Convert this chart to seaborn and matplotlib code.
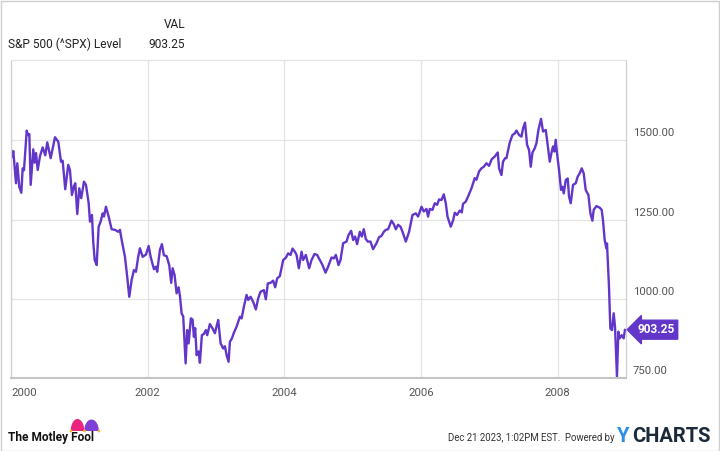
import numpy as np
import pandas as pd
import matplotlib
matplotlib.use("Agg")
import matplotlib.pyplot as plt
from matplotlib.transforms import ScaledTranslation
from matplotlib.patches import Rectangle, Circle, Polygon
import seaborn as sns

# ---------------- data ----------------
year_frac = [
    2000.000, 2000.015, 2000.034, 2000.073, 2000.092, 2000.121, 2000.151, 2000.171, 2000.190, 2000.230,
    2000.249, 2000.268, 2000.288, 2000.326, 2000.347, 2000.366, 2000.391, 2000.424, 2000.464, 2000.502,
    2000.531, 2000.581, 2000.644, 2000.692, 2000.732, 2000.756, 2000.794, 2000.838, 2000.863, 2000.892,
    2000.922, 2000.941, 2000.970, 2000.999, 2001.028, 2001.068, 2001.097, 2001.137, 2001.156, 2001.185,
    2001.204, 2001.225, 2001.254, 2001.283, 2001.312, 2001.342, 2001.361, 2001.390, 2001.429, 2001.473,
    2001.522, 2001.570, 2001.595, 2001.620, 2001.668, 2001.701, 2001.731, 2001.766, 2001.799, 2001.829,
    2001.862, 2001.887, 2001.927, 2001.975, 2002.015, 2002.044, 2002.092, 2002.121, 2002.140, 2002.180,
    2002.209, 2002.238, 2002.278, 2002.316, 2002.345, 2002.366, 2002.395, 2002.424, 2002.453, 2002.473,
    2002.497, 2002.521, 2002.556, 2002.579, 2002.600, 2002.633, 2002.658, 2002.677, 2002.696, 2002.717,
    2002.746, 2002.765, 2002.794, 2002.824, 2002.853, 2002.872, 2002.911, 2002.951, 2002.985, 2003.009,
    2003.033, 2003.068, 2003.106, 2003.131, 2003.156, 2003.185, 2003.204, 2003.234, 2003.263, 2003.302,
    2003.351, 2003.376, 2003.409, 2003.448, 2003.472, 2003.507, 2003.545, 2003.584, 2003.618, 2003.653,
    2003.701, 2003.730, 2003.759, 2003.799, 2003.837, 2003.867, 2003.896, 2003.935, 2003.984, 2004.023,
    2004.057, 2004.092, 2004.121, 2004.155, 2004.180, 2004.213, 2004.253, 2004.276, 2004.316, 2004.364,
    2004.399, 2004.443, 2004.481, 2004.521, 2004.560, 2004.604, 2004.642, 2004.692, 2004.726, 2004.755,
    2004.794, 2004.823, 2004.862, 2004.911, 2004.941, 2004.979, 2005.008, 2005.037, 2005.066, 2005.106,
    2005.135, 2005.164, 2005.194, 2005.223, 2005.262, 2005.300, 2005.350, 2005.388, 2005.423, 2005.457,
    2005.486, 2005.520, 2005.570, 2005.603, 2005.633, 2005.666, 2005.701, 2005.731, 2005.779, 2005.827,
    2005.877, 2005.925, 2005.959, 2006.009, 2006.042, 2006.082, 2006.105, 2006.130, 2006.169, 2006.203,
    2006.237, 2006.266, 2006.301, 2006.335, 2006.364, 2006.389, 2006.437, 2006.471, 2006.496, 2006.529,
    2006.569, 2006.598, 2006.617, 2006.656, 2006.690, 2006.740, 2006.788, 2006.813, 2006.851, 2006.886,
    2006.920, 2006.959, 2006.998, 2007.037, 2007.081, 2007.125, 2007.144, 2007.179, 2007.202, 2007.232,
    2007.252, 2007.300, 2007.340, 2007.374, 2007.398, 2007.437, 2007.472, 2007.495, 2007.524, 2007.554,
    2007.583, 2007.608, 2007.633, 2007.666, 2007.691, 2007.720, 2007.758, 2007.788, 2007.827, 2007.846,
    2007.886, 2007.915, 2007.934, 2007.954, 2007.973, 2007.992, 2008.022, 2008.051, 2008.071, 2008.091,
    2008.120, 2008.149, 2008.168, 2008.193, 2008.227, 2008.266, 2008.295, 2008.324, 2008.354, 2008.383,
    2008.412, 2008.452, 2008.481, 2008.510, 2008.529, 2008.569, 2008.617, 2008.646, 2008.665, 2008.690,
    2008.715, 2008.724, 2008.753, 2008.773, 2008.797, 2008.822, 2008.841, 2008.851, 2008.870, 2008.890,
    2008.909, 2008.939, 2008.968, 2008.987,
]
spx_level = [
    1472, 1449, 1466, 1365, 1428, 1354, 1335, 1412, 1406, 1531,
    1517, 1520, 1360, 1472, 1430, 1460, 1407, 1450, 1478, 1453,
    1494, 1444, 1510, 1496, 1433, 1436, 1346, 1423, 1406, 1328,
    1356, 1365, 1268, 1349, 1318, 1370, 1360, 1302, 1244, 1265,
    1180, 1123, 1107, 1228, 1244, 1270, 1260, 1291, 1260, 1220,
    1218, 1212, 1218, 1186, 1133, 1070, 1007, 1060, 1091, 1086,
    1133, 1160, 1133, 1140, 1167, 1133, 1094, 1102, 1086, 1155,
    1173, 1138, 1135, 1107, 1051, 1097, 1075, 1018, 1037, 1010,
    955, 945, 797, 902, 860, 939, 935, 881, 908, 823,
    835, 799, 886, 890, 902, 886, 921, 907, 892, 914,
    934, 860, 844, 851, 823, 802, 865, 876, 894, 913,
    944, 939, 976, 1013, 997, 1007, 991, 967, 1002, 1023,
    1028, 999, 1049, 1051, 1058, 1037, 1065, 1072, 1123, 1130,
    1144, 1139, 1159, 1149, 1139, 1097, 1149, 1123, 1139, 1097,
    1123, 1142, 1139, 1123, 1107, 1083, 1102, 1131, 1128, 1139,
    1107, 1123, 1176, 1181, 1202, 1215, 1186, 1197, 1173, 1212,
    1197, 1220, 1189, 1181, 1181, 1157, 1176, 1195, 1199, 1212,
    1218, 1220, 1247, 1236, 1220, 1234, 1228, 1212, 1181, 1212,
    1265, 1270, 1260, 1291, 1276, 1284, 1260, 1284, 1281, 1302,
    1297, 1314, 1312, 1330, 1302, 1260, 1228, 1248, 1272, 1265,
    1279, 1273, 1300, 1307, 1323, 1349, 1381, 1376, 1402, 1412,
    1417, 1428, 1420, 1441, 1449, 1462, 1412, 1391, 1433, 1444,
    1444, 1493, 1517, 1522, 1531, 1517, 1512, 1538, 1556, 1486,
    1470, 1417, 1462, 1475, 1491, 1533, 1568, 1528, 1533, 1502,
    1433, 1465, 1481, 1465, 1502, 1460, 1407, 1344, 1354, 1333,
    1375, 1380, 1323, 1302, 1360, 1365, 1386, 1396, 1412, 1396,
    1344, 1328, 1270, 1247, 1281, 1293, 1288, 1281, 1249, 1186,
    1160, 1175, 1039, 907, 902, 955, 913, 860, 755, 897,
    876, 886, 876, 903.25,
]
y_ticks = [750, 1000, 1250, 1500]
x_tick_years = [2000, 2002, 2004, 2006, 2008]
series_name = "S&P 500 (^SPX) Level"
last_value = 903.25

# ---------------- styling ----------------
LINE = "#6236c9"
GRID = "#e3e3e3"
TICK = "#555555"

sns.set_theme(style="white")
plt.rcParams["font.family"] = ["Roboto", "DejaVu Sans"]

yf = np.array(year_frac)
dates = pd.Timestamp("2000-01-01") + pd.to_timedelta((yf - 2000) * 365.25, unit="D")
df = pd.DataFrame({"date": dates, "level": spx_level})

fig = plt.figure(figsize=(7.2, 4.51), dpi=100)
ax = fig.add_axes([11 / 720, 72.7 / 451, (626 - 11) / 720, (378.3 - 60.5) / 451])

sns.lineplot(data=df, x="date", y="level", ax=ax, color=LINE, linewidth=1.7)

ax.set_xlim(pd.Timestamp("2000-01-01"), pd.Timestamp("2009-01-01"))
ax.set_ylim(750, 1752)
ax.set_xlabel("")
ax.set_ylabel("")

xt = [pd.Timestamp(f"{y}-01-01") for y in x_tick_years]
ax.set_xticks(xt)
ax.set_xticklabels([str(y) for y in x_tick_years])
ax.set_yticks(y_ticks)
ax.set_yticklabels([f"{v:.2f}" for v in y_ticks])

ax.grid(True, color=GRID, linewidth=0.9)
ax.set_axisbelow(True)
ax.yaxis.tick_right()
ax.tick_params(axis="both", length=0, labelsize=8.2, labelcolor=TICK)
ax.tick_params(axis="x", pad=7)
ax.tick_params(axis="y", pad=5)

labs = ax.get_xticklabels()
labs[0].set_horizontalalignment("left")
for lab in ax.get_yticklabels():
    lab.set_verticalalignment("bottom")
    lab.set_transform(lab.get_transform() + ScaledTranslation(0, 1.5 / 72, fig.dpi_scale_trans))

for side, sp in ax.spines.items():
    sp.set_visible(True)
    sp.set_color("#d0d0d0")
    sp.set_linewidth(0.9)
ax.spines["top"].set_color("#e3e3e3")
ax.spines["bottom"].set_color("#c4c4c4")
ax.spines["bottom"].set_linewidth(1.5)

# end value flag
ax.annotate(f"{last_value:.2f}", xy=(df["date"].iloc[-1], last_value), xycoords="data",
            xytext=(9, 0), textcoords="offset points", ha="left", va="center",
            color="white", fontsize=8.6, fontweight="bold", annotation_clip=False,
            bbox=dict(boxstyle="larrow,pad=0.25", fc=LINE, ec=LINE))

# header
fig.text(185 / 720, 1 - 25 / 451, "VAL", ha="right", va="center", fontsize=8.6, color="#222222")
fig.text(8 / 720, 1 - 44 / 451, series_name, ha="left", va="center", fontsize=8.6, color="#222222")
fig.text(185 / 720, 1 - 44 / 451, f"{last_value:.2f}", ha="right", va="center", fontsize=8.6, color="#222222")

# footer
fig.text(8 / 720, 1 - 437 / 451, "The Motley Fool", ha="left", va="center", fontsize=8.6,
         fontweight="bold", color="#111111")
fig.text(614 / 720, 1 - 438 / 451, "Dec 21 2023, 1:02PM EST.  Powered by", ha="right", va="center",
         fontsize=6.9, color="#333333")
fig.text(617 / 720, 1 - 437 / 451, "Y", ha="left", va="center", fontsize=14.5, fontweight="bold", color="#2d8ce6")
fig.text(632 / 720, 1 - 437 / 451, "CHARTS", ha="left", va="center", fontsize=14.5, fontweight="bold",
         color="#1b2a3a")

# jester hat (decorative logo), drawn in pixel-like inch coordinates
D = fig.dpi_scale_trans
def half_ellipse(cx, cy, a, b):
    t = np.linspace(0, np.pi, 40)
    return np.column_stack([(cx + a * np.cos(t)) / 100, (451 - (cy - b * np.sin(t))) / 100])
fig.patches.append(Polygon(half_ellipse(77.5, 431, 6.8, 12), closed=True, transform=D, fc="#e8247e", ec="none"))
fig.patches.append(Polygon(half_ellipse(91.5, 431, 7.3, 11.5), closed=True, transform=D, fc="#7f3fd6", ec="none"))
for cx in (71, 84.5, 99):
    fig.patches.append(Circle((cx / 100, (451 - 431) / 100), 0.014, transform=D, fc="#f5b82e", ec="none"))

# outer frame
fig.patches.append(Rectangle((0.0007, 0.001), 0.9986, 0.997, transform=fig.transFigure, fill=False,
                             ec="#cfcfcf", lw=1.0))

fig.savefig("out.png", dpi=100, facecolor="white")
